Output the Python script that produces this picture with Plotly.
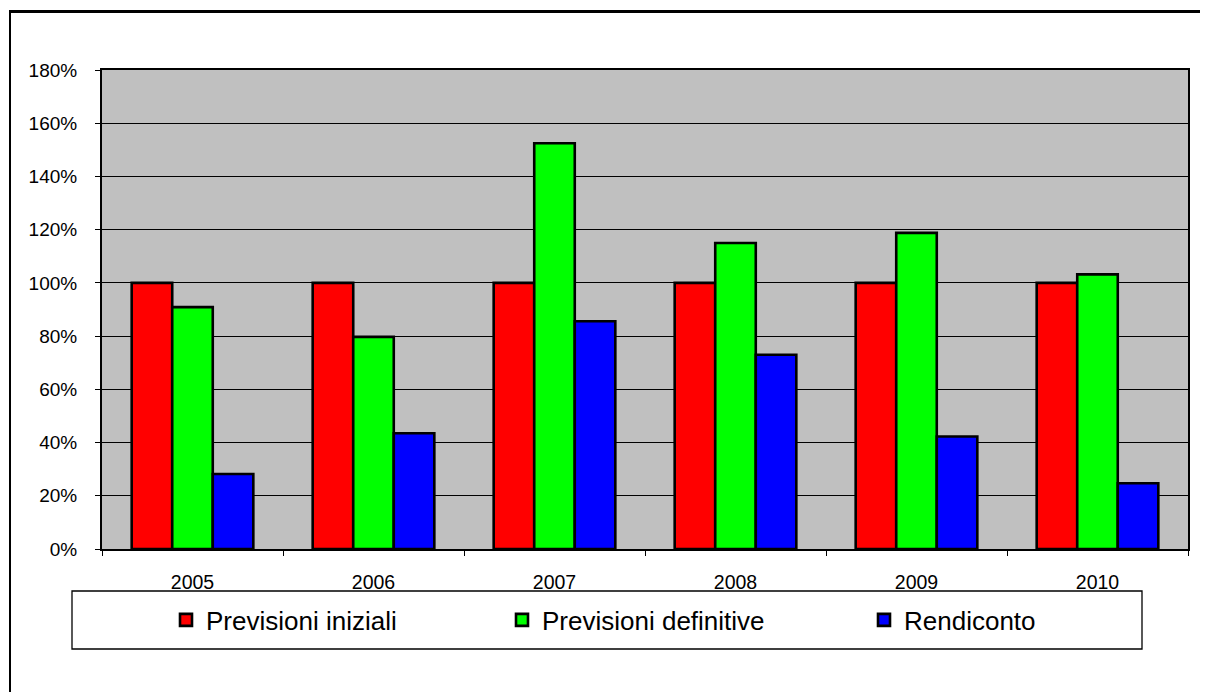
import plotly.graph_objects as go

# ---- data ----
years = ["2005", "2006", "2007", "2008", "2009", "2010"]
previsioni_iniziali = [1.00, 1.00, 1.00, 1.00, 1.00, 1.00]
previsioni_definitive = [0.909, 0.797, 1.525, 1.150, 1.188, 1.032]
rendiconto = [0.282, 0.435, 0.856, 0.730, 0.423, 0.247]
series_names = ["Previsioni iniziali", "Previsioni definitive", "Rendiconto"]
series_colors = ["#FF0000", "#00FF00", "#0000FF"]

# ---- layout geometry (pixels in the 1208x692 window; page body has an 8px margin) ----
OFF = 8
W, H = 1208 - OFF, 692 - OFF
PL, PR, PT, PB = 102 - OFF, 1188 - OFF, 70 - OFF, 549 - OFF
def px_x(p):
    return (p - OFF - PL) / (PR - PL)
def px_y(p):
    return (PB - (p - OFF)) / (PB - PT)

FONT = "Liberation Sans, Arial, sans-serif"

fig = go.Figure()
legend_ids = ["legend", "legend2", "legend3"]
for name, vals, col, lg in zip(series_names,
                               [previsioni_iniziali, previsioni_definitive, rendiconto],
                               series_colors, legend_ids):
    fig.add_trace(go.Bar(
        x=years, y=vals, name=name, legend=lg, showlegend=True,
        marker=dict(color=col, line=dict(color="black", width=2.6)),
        hoverinfo="x+y+name",
    ))

legend_common = dict(
    orientation="h", yanchor="middle", xanchor="left",
    bgcolor="rgba(0,0,0,0)", borderwidth=0,
    font=dict(family=FONT, size=26, color="black"),
    itemwidth=30, visible=True,
)
fig.update_layout(
    width=W, height=H,
    showlegend=True,
    margin=dict(l=PL, r=W - PR, t=PT, b=H - PB, pad=0),
    paper_bgcolor="white",
    plot_bgcolor="#C0C0C0",
    barmode="group",
    bargap=0.328,
    bargroupgap=0,
    legend=dict(x=px_x(166), y=px_y(620), **legend_common),
    legend2=dict(x=px_x(502), y=px_y(620), **legend_common),
    legend3=dict(x=px_x(864), y=px_y(620), **legend_common),
    xaxis=dict(
        type="category",
        categoryorder="array", categoryarray=years,
        range=[-0.5, len(years) - 0.5],
        tickson="boundaries",
        ticks="outside", ticklen=5, tickwidth=1, tickcolor="black",
        showline=True, linecolor="black", linewidth=2, mirror=True,
        showgrid=False,
        tickfont=dict(family=FONT, size=19.5, color="black"),
        ticklabelstandoff=15,
    ),
    xaxis2=dict(
        overlaying="x", anchor="y", side="bottom",
        type="linear", range=[-0.5, len(years) - 0.5],
        tickmode="array", tickvals=[i - 0.5 for i in range(len(years) + 1)],
        ticks="inside", ticklen=5, tickwidth=1, tickcolor="black",
        showticklabels=False, showgrid=False, zeroline=False, showline=False,
    ),
    yaxis=dict(
        range=[0, 1.8], dtick=0.2, tick0=0,
        tickformat=".0%",
        ticks="outside", ticklen=5, tickwidth=1, tickcolor="black",
        showline=True, linecolor="black", linewidth=2, mirror=True,
        showgrid=True, gridcolor="black", gridwidth=1.2,
        zeroline=False,
        tickfont=dict(family=FONT, size=19, color="black"),
        ticklabelstandoff=14,
    ),
    shapes=[
        # legend frame
        dict(type="rect", xref="paper", yref="paper",
             x0=px_x(72), x1=px_x(1142), y0=px_y(591), y1=px_y(649),
             line=dict(color="black", width=1.3), fillcolor="white", layer="below"),
        # outer chart border (top and left visible)
        dict(type="line", xref="paper", yref="paper",
             x0=px_x(10), x1=px_x(1208 + 20), y0=px_y(11.5), y1=px_y(11.5),
             line=dict(color="black", width=3)),
        dict(type="line", xref="paper", yref="paper",
             x0=px_x(10), x1=px_x(10), y0=px_y(10), y1=px_y(692 + 20),
             line=dict(color="black", width=2)),
    ],
)

fig.write_html("out.html")
